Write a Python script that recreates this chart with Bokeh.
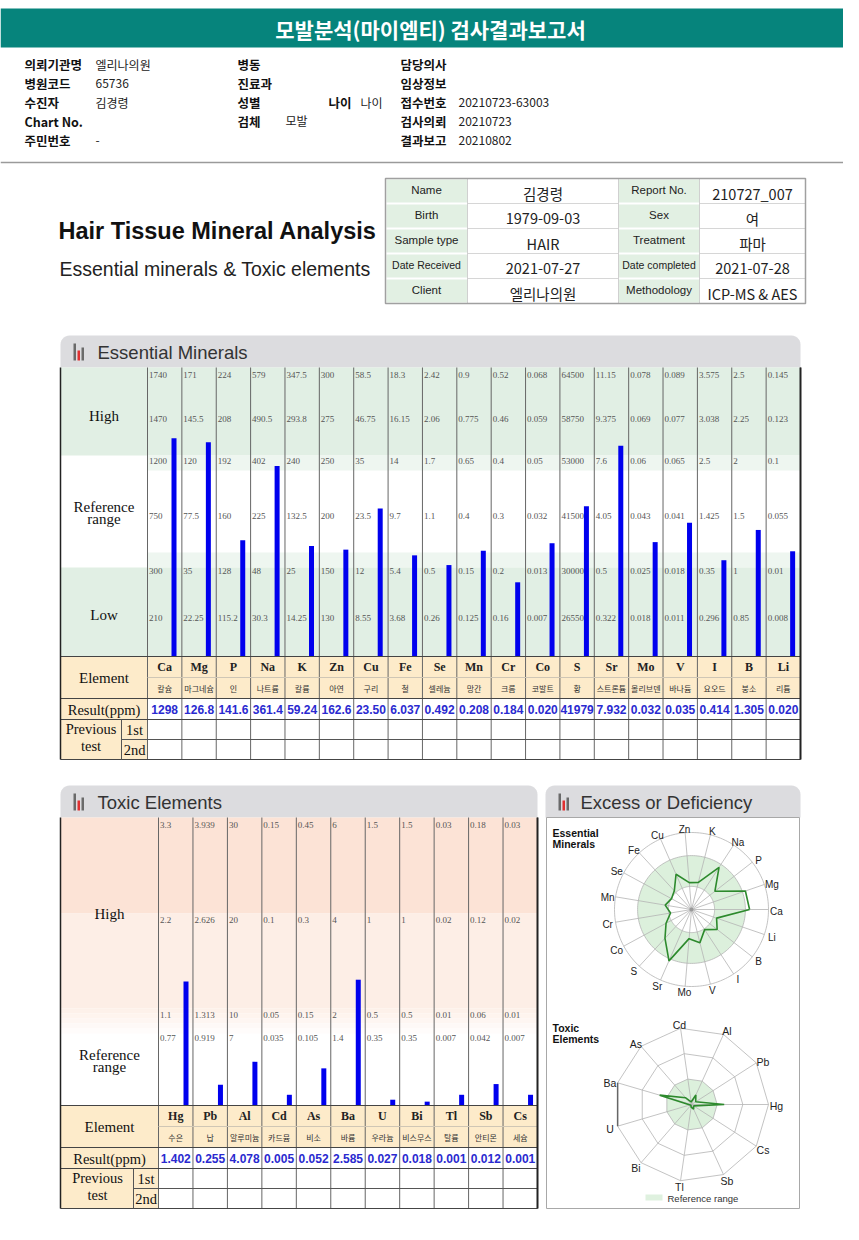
import math
import numpy as np
from bokeh.plotting import figure
from bokeh.models import Range1d
from bokeh.core.properties import value
from bokeh.embed import file_html
from bokeh.resources import INLINE

# ======================= DATA =======================
report_title = "모발분석(마이엠티) 검사결과보고서"

info_labels_1 = ["의뢰기관명", "병원코드", "수진자", "Chart No.", "주민번호"]
info_values_1 = ["엘리나의원", "65736", "김경령", "", "-"]
info_labels_2 = ["병동", "진료과", "성별", "검체", ""]
info_values_2 = ["", "", "", "모발", ""]
info_labels_3 = ["담당의사", "임상정보", "접수번호", "검사의뢰", "결과보고"]
info_values_3 = ["", "", "20210723-63003", "20210723", "20210802"]

card_labels_left = ["Name", "Birth", "Sample type", "Date Received", "Client"]
card_values_left = ["김경령", "1979-09-03", "HAIR", "2021-07-27", "엘리나의원"]
card_labels_right = ["Report No.", "Sex", "Treatment", "Date completed", "Methodology"]
card_values_right = ["210727_007", "여", "파마", "2021-07-28", "ICP-MS & AES"]

ess_symbols = ["Ca", "Mg", "P", "Na", "K", "Zn", "Cu", "Fe", "Se", "Mn", "Cr", "Co",
               "S", "Sr", "Mo", "V", "I", "B", "Li"]
ess_korean = ["칼슘", "마그네슘", "인", "나트륨", "칼륨", "아연", "구리", "철", "셀레늄", "망간",
              "크롬", "코발트", "황", "스트론튬", "몰리브덴", "바나듐", "요오드", "붕소", "리튬"]
ess_results = [1298, 126.8, 141.6, 361.4, 59.24, 162.6, 23.50, 6.037, 0.492, 0.208,
               0.184, 0.020, 41979, 7.932, 0.032, 0.035, 0.414, 1.305, 0.020]
ess_high_max = [1740, 171, 224, 579, 347.5, 300, 58.5, 18.3, 2.42, 0.9, 0.52, 0.068,
                64500, 11.15, 0.078, 0.089, 3.575, 2.5, 0.145]
ess_high_mid = [1470, 145.5, 208, 490.5, 293.8, 275, 46.75, 16.15, 2.06, 0.775, 0.46, 0.059,
                58750, 9.375, 0.069, 0.077, 3.038, 2.25, 0.123]
ess_ref_high = [1200, 120, 192, 402, 240, 250, 35, 14, 1.7, 0.65, 0.4, 0.05,
                53000, 7.6, 0.06, 0.065, 2.5, 2, 0.1]
ess_ref_mid = [750, 77.5, 160, 225, 132.5, 200, 23.5, 9.7, 1.1, 0.4, 0.3, 0.032,
               41500, 4.05, 0.043, 0.041, 1.425, 1.5, 0.055]
ess_ref_low = [300, 35, 128, 48, 25, 150, 12, 5.4, 0.5, 0.15, 0.2, 0.013,
               30000, 0.5, 0.025, 0.018, 0.35, 1, 0.01]
ess_low_mid = [210, 22.25, 115.2, 30.3, 14.25, 130, 8.55, 3.68, 0.26, 0.125, 0.16, 0.007,
               26550, 0.322, 0.018, 0.011, 0.296, 0.85, 0.008]

tox_symbols = ["Hg", "Pb", "Al", "Cd", "As", "Ba", "U", "Bi", "Tl", "Sb", "Cs"]
tox_korean = ["수은", "납", "알루미늄", "카드뮴", "비소", "바륨", "우라늄", "비스무스", "탈륨", "안티몬", "세슘"]
tox_results = [1.402, 0.255, 4.078, 0.005, 0.052, 2.585, 0.027, 0.018, 0.001, 0.012, 0.001]
tox_max = [3.3, 3.939, 30, 0.15, 0.45, 6, 1.5, 1.5, 0.03, 0.18, 0.03]
tox_high = [2.2, 2.626, 20, 0.1, 0.3, 4, 1, 1, 0.02, 0.12, 0.02]
tox_ref = [1.1, 1.313, 10, 0.05, 0.15, 2, 0.5, 0.5, 0.01, 0.06, 0.01]
tox_ref_mid = [0.77, 0.919, 7, 0.035, 0.105, 1.4, 0.35, 0.35, 0.007, 0.042, 0.007]

# ======================= STYLE =======================
SANS = "Liberation Sans"
KR = "Noto Sans CJK KR"
SERIF = "Liberation Serif"
TEAL = "#06847c"
HDR = "#dcdcdf"
GREEN = "#e1efe4"
GREEN_L = "#eef6f0"
PEACH = "#fce3d6"
PEACH_L = "#fdeee6"
BEIGE = "#fdebca"
BAR = "#0000ee"
BLUE_TXT = "#2a2ad0"
GRID = "#666666"

W, H = 843, 1224
p = figure(width=W, height=H, x_range=Range1d(0, W), y_range=Range1d(H, 0),
           output_backend="svg", toolbar_location=None, min_border=0,
           x_axis_location=None, y_axis_location=None)
p.grid.visible = False
p.outline_line_color = None
p.background_fill_color = "white"
p.border_fill_color = "white"


def T(xs, ys, texts, size, font=SANS, color="#222", align="left", baseline="middle", style="normal"):
    p.text(x=list(xs), y=list(ys), text=list(texts), text_font=value(font),
           text_font_size=f"{size}px", text_color=color, text_align=align,
           text_baseline=baseline, text_font_style=style)


def Q(l, r, t, b, fill, line=None, lw=1):
    p.quad(left=[l], right=[r], top=[t], bottom=[b], fill_color=fill, line_color=line, line_width=lw)


def S(x0, y0, x1, y1, color=GRID, lw=1):
    p.segment(x0=[x0], y0=[y0], x1=[x1], y1=[y1], line_color=color, line_width=lw)


def header_bar(x0, x1, y0, y1, r=9):
    xs, ys = [x0], [y1]
    for t in np.linspace(math.pi, 1.5 * math.pi, 8):
        xs.append(x0 + r + r * math.cos(t)); ys.append(y0 + r + r * math.sin(t))
    for t in np.linspace(1.5 * math.pi, 2 * math.pi, 8):
        xs.append(x1 - r + r * math.cos(t)); ys.append(y0 + r + r * math.sin(t))
    xs.append(x1); ys.append(y1)
    p.patch(xs, ys, fill_color=HDR, line_color=None)


def icon(x, yb):
    Q(x, x + 2.5, yb - 17, yb, "#6a6a6a")
    Q(x + 4, x + 6.5, yb - 10, yb, "#e03030")
    Q(x + 8, x + 10.5, yb - 13, yb, "#6a6a6a")


def fmt_result(v):
    if v >= 1000:
        return f"{v:.0f}"
    d = 3 - int(math.floor(math.log10(v)))
    d = max(0, min(3, d))
    return f"{v:.{d}f}"


# ======================= TOP HEADER =======================
Q(0, W, 8, 47, TEAL)
T([430], [28], [report_title], 21, KR, "white", "center", "middle", "bold")

rows_y = [64, 83, 102, 121, 140]
T([24] * 5, rows_y, info_labels_1, 12.5, KR, "#111", style="bold")
T([95] * 5, rows_y, info_values_1, 12, KR, "#222")
T([237] * 5, rows_y, info_labels_2, 12.5, KR, "#111", style="bold")
T([285] * 5, [y - 1 for y in rows_y], info_values_2, 12, KR, "#222")
T([328], [102], ["나이"], 12.5, KR, "#111", style="bold")
T([360], [102], ["나이"], 12, KR, "#222")
T([400] * 5, rows_y, info_labels_3, 12.5, KR, "#111", style="bold")
T([458] * 5, rows_y, info_values_3, 12, KR, "#222")
S(0, 162, W, 162, "#9a9a9a", 1.5)

# ======================= INFO CARD =======================
cx_ = [385, 467, 618, 699, 805]
ry_ = [178, 203, 228, 253, 278, 303]
for i in range(5):
    Q(cx_[0] + 1, cx_[1], ry_[i] + 1, ry_[i + 1] - 1, "#e2f0e3")
    Q(cx_[2], cx_[3], ry_[i] + 1, ry_[i + 1] - 1, "#e2f0e3")
for i in range(1, 5):
    S(cx_[1], ry_[i], cx_[2], ry_[i], "#d6d6d6")
    S(cx_[3], ry_[i], cx_[4], ry_[i], "#d6d6d6")
for c in cx_[1:4]:
    S(c, ry_[0], c, ry_[5], "#d0d0d0")
Q(cx_[0], cx_[4], ry_[0], ry_[5], None, "#a0a0a0", 1.5)
for i in range(5):
    yc = (ry_[i] + ry_[i + 1]) / 2
    for lab, xc in ((card_labels_left[i], 426), (card_labels_right[i], 658.5)):
        T([xc], [yc - 1], [lab], 10.5 if len(lab) > 11 else 11.5, SANS, "#222", "center")
    T([542.5], [yc + 2], [card_values_left[i]], 14.5, KR, "#222", "center")
    T([752], [yc + 2], [card_values_right[i]], 14.5, KR, "#222", "center")

T([58], [230], ["Hair Tissue Mineral Analysis"], 23.5, SANS, "#111", "left", "middle", "bold")
T([59], [268], ["Essential minerals & Toxic elements"], 19.5, SANS, "#222", "left", "middle")

# ======================= ESSENTIAL MINERALS =======================
EX0, ELAB, EX1 = 60, 147, 800
ne = len(ess_symbols)
ew = (EX1 - ELAB) / ne
ecols = [ELAB + i * ew for i in range(ne + 1)]
ecent = [c + ew / 2 for c in ecols[:-1]]
E_TICK_Y = [367, 411, 453, 508, 563, 610]
E_BASE = 656

header_bar(EX0, EX1, 335, 367)
icon(73, 360)
T([97], [352], ["Essential Minerals"], 18.5, SANS, "#333")

Q(EX0, EX1, 367, 455, GREEN)
Q(ELAB, EX1, 455, 470, GREEN_L)
Q(ELAB, EX1, 552, 567, GREEN_L)
Q(EX0, EX1, 567, E_BASE, GREEN)

ess_levels = [ess_high_max, ess_high_mid, ess_ref_high, ess_ref_mid, ess_ref_low, ess_low_mid]
xs, ys, ts = [], [], []
for k, lev in enumerate(ess_levels):
    for i, v in enumerate(lev):
        xs.append(ecols[i] + 1.5); ys.append(E_TICK_Y[k] + 4); ts.append(f"{v:g}")
T(xs, ys, ts, 9, SERIF, "#555", "left", "top")

e_tops = [float(np.interp(v, [0, ess_low_mid[i], ess_ref_low[i], ess_ref_mid[i], ess_ref_high[i],
                              ess_high_mid[i], ess_high_max[i]],
                          [E_BASE] + E_TICK_Y[::-1]))
          for i, v in enumerate(ess_results)]
p.vbar(x=[c + 26.5 for c in ecols[:-1]], width=5, top=e_tops, bottom=E_BASE,
       fill_color=BAR, line_color=None)

T([103.5], [415], ["High"], 15, SERIF, "#111", "center", "middle")
T([103.5, 103.5], [506, 518], ["Reference", "range"], 15, SERIF, "#111", "center", "middle")
T([103.5], [614], ["Low"], 15, SERIF, "#111", "center", "middle")

E_ROWS = [656, 677, 698, 719, 739, 759]
Q(EX0, EX1, E_ROWS[0], E_ROWS[2], BEIGE)
Q(EX0, ELAB, E_ROWS[2], E_ROWS[5], BEIGE)
for c in ecols:
    S(c, 367, c, E_ROWS[5], GRID)
S(ELAB, E_ROWS[1], EX1, E_ROWS[1], "#cfc6b5")
for yy in (E_ROWS[0], E_ROWS[2], E_ROWS[3], E_ROWS[5]):
    S(EX0, yy, EX1, yy, "#444")
S(121, E_ROWS[4], EX1, E_ROWS[4], "#555")
S(121, E_ROWS[3], 121, E_ROWS[5], "#555")
S(EX0, 367, EX0, E_ROWS[5], "#222", 1.5)
S(EX1, 367, EX1, E_ROWS[5], "#222", 2)

T(ecent, [666.5] * ne, ess_symbols, 12, SERIF, "#222", "center", "middle", "bold")
T(ecent, [688] * ne, ess_korean, 8, KR, "#333", "center")
T(ecent, [709] * ne, [fmt_result(v) for v in ess_results], 12, SANS, BLUE_TXT, "center", "middle", "bold")
T([103.5], [677], ["Element"], 15, SERIF, "#111", "center", "middle")
T([103.5], [709], ["Result(ppm)"], 14.5, SERIF, "#111", "center", "middle")
T([90.5, 90.5], [728, 745], ["Previous", "test"], 14.5, SERIF, "#111", "center", "middle")
T([134, 134], [729.5, 749.5], ["1st", "2nd"], 14.5, SERIF, "#111", "center", "middle")

# ======================= TOXIC ELEMENTS =======================
TX0, TLAB, TX1 = 60, 158, 537
nt = len(tox_symbols)
tw = (TX1 - TLAB) / nt
tcols = [TLAB + i * tw for i in range(nt + 1)]
tcent = [c + tw / 2 for c in tcols[:-1]]
T_TICK_Y = [817, 912, 1007, 1030]
T_BASE = 1105

header_bar(TX0, TX1, 785, 817)
icon(73, 810)
T([97], [802], ["Toxic Elements"], 18.5, SANS, "#333")

Q(TX0, TX1, 817, 913, PEACH)
Q(TX0, TX1, 913, 1008, PEACH_L)
g0 = np.array([0xfd, 0xee, 0xe6]); g1 = np.array([255, 255, 255])
for s in range(5):
    c = g0 + (g1 - g0) * (s + 1) / 6
    Q(TX0, TX1, 1008 + s * 5, 1013 + s * 5, "#%02x%02x%02x" % tuple(int(round(v)) for v in c))

tox_levels = [tox_max, tox_high, tox_ref, tox_ref_mid]
xs, ys, ts = [], [], []
for k, lev in enumerate(tox_levels):
    for i, v in enumerate(lev):
        xs.append(tcols[i] + 1.5); ys.append(T_TICK_Y[k] + 4); ts.append(f"{v:g}")
T(xs, ys, ts, 9, SERIF, "#555", "left", "top")

t_tops = [float(np.interp(v, [0, tox_ref_mid[i], tox_ref[i], tox_high[i], tox_max[i]],
                          [T_BASE] + T_TICK_Y[::-1]))
          for i, v in enumerate(tox_results)]
p.vbar(x=[c + 27.5 for c in tcols[:-1]], width=5, top=t_tops, bottom=T_BASE,
       fill_color=BAR, line_color=None)

T([109], [913], ["High"], 15, SERIF, "#111", "center", "middle")
T([109, 109], [1054, 1066], ["Reference", "range"], 15, SERIF, "#111", "center", "middle")

T_ROWS = [1105, 1126, 1147, 1168, 1188, 1208]
Q(TX0, TX1, T_ROWS[0], T_ROWS[2], BEIGE)
Q(TX0, TLAB, T_ROWS[2], T_ROWS[5], BEIGE)
for c in tcols:
    S(c, 817, c, T_ROWS[5], GRID)
S(TLAB, T_ROWS[1], TX1, T_ROWS[1], "#cfc6b5")
for yy in (T_ROWS[0], T_ROWS[2], T_ROWS[3], T_ROWS[5]):
    S(TX0, yy, TX1, yy, "#444")
S(133, T_ROWS[4], TX1, T_ROWS[4], "#555")
S(133, T_ROWS[3], 133, T_ROWS[5], "#555")
S(TX0, 817, TX0, T_ROWS[5], "#222", 1.5)
S(TX1, 817, TX1, T_ROWS[5], "#222", 2)

T(tcent, [1115.5] * nt, tox_symbols, 12, SERIF, "#222", "center", "middle", "bold")
T(tcent, [1137] * nt, tox_korean, 8, KR, "#333", "center")
T(tcent, [1158] * nt, [fmt_result(v) for v in tox_results], 12, SANS, BLUE_TXT, "center", "middle", "bold")
T([109], [1126], ["Element"], 15, SERIF, "#111", "center", "middle")
T([109], [1158], ["Result(ppm)"], 14.5, SERIF, "#111", "center", "middle")
T([97, 97], [1177, 1194], ["Previous", "test"], 14.5, SERIF, "#111", "center", "middle")
T([145.5, 145.5], [1178.5, 1198.5], ["1st", "2nd"], 14.5, SERIF, "#111", "center", "middle")

# ======================= EXCESS OR DEFICIENCY =======================
header_bar(545, 800, 785, 817)
icon(558, 810)
T([580], [802], ["Excess or Deficiency"], 18.5, SANS, "#333")
Q(546, 799, 817, 1208, None, "#a8a8a8", 1)

RG = "#dcf0dc"
RL = "#b4b4b4"
PL = "#2d8a2d"


def ring_pts(cx, cy, r, n):
    t = np.linspace(0, 2 * math.pi, n + 1)
    return list(cx + r * np.cos(t)), list(cy - r * np.sin(t))


# --- essential radar ---
cxe, cye, R = 691, 909, 77
n = ne
ang = [2 * math.pi * i / n for i in range(n)]
x, y = ring_pts(cxe, cye, 0.7 * R, 180)
p.patch(x, y, fill_color=RG, line_color=RL, line_width=0.8)
x, y = ring_pts(cxe, cye, 0.3 * R, 180)
p.patch(x, y, fill_color="white", line_color=RL, line_width=0.8)
x, y = ring_pts(cxe, cye, R, 180)
p.line(x, y, line_color=RL, line_width=0.8)
p.segment(x0=[cxe] * n, y0=[cye] * n, x1=[cxe + R * math.cos(a) for a in ang],
          y1=[cye - R * math.sin(a) for a in ang], line_color=RL, line_width=0.8)
efr = [float(np.interp(v, [0, ess_ref_low[i], ess_ref_high[i], ess_high_max[i]], [0, 0.3, 0.7, 1.0]))
       for i, v in enumerate(ess_results)]
px = [cxe + f * R * math.cos(a) for f, a in zip(efr, ang)]
py = [cye - f * R * math.sin(a) for f, a in zip(efr, ang)]
p.line(px + [px[0]], py + [py[0]], line_color=PL, line_width=1.6)
p.scatter([cxe], [cye], size=4, fill_color="#999", line_color=None)
T([cxe + (R + 8) * math.cos(a) for a in ang], [cye - (R + 5) * math.sin(a) + 1.5 for a in ang],
  ess_symbols, 10, SANS, "#222", "center", "middle")
T([552, 552], [832, 843], ["Essential", "Minerals"], 10.5, SANS, "#111", "left", "middle", "bold")

# --- toxic radar ---
cxt, cyt = 691, 1104
n = nt
ang = [2 * math.pi * i / n for i in range(n)]
x, y = ring_pts(cxt, cyt, R / 3, n)
p.patch(x, y, fill_color=RG, line_color=RL, line_width=0.8)
for fr in (2 / 3, 1.0):
    x, y = ring_pts(cxt, cyt, fr * R, n)
    p.line(x, y, line_color=RL, line_width=0.8)
p.segment(x0=[cxt] * n, y0=[cyt] * n, x1=[cxt + R * math.cos(a) for a in ang],
          y1=[cyt - R * math.sin(a) for a in ang], line_color=RL, line_width=0.8)
iba, iu = tox_symbols.index("Ba"), tox_symbols.index("U")
S(cxt + R * math.cos(ang[iba]), cyt - R * math.sin(ang[iba]),
  cxt + R * math.cos(ang[iu]), cyt - R * math.sin(ang[iu]), "#666", 1.5)
tfr = [min(1.0, v / tox_max[i]) for i, v in enumerate(tox_results)]
px = [cxt + f * R * math.cos(a) for f, a in zip(tfr, ang)]
py = [cyt - f * R * math.sin(a) for f, a in zip(tfr, ang)]
p.line(px + [px[0]], py + [py[0]], line_color=PL, line_width=1.6)
T([cxt + (R + 8) * math.cos(a) for a in ang], [cyt - (R + 5) * math.sin(a) + 1.5 for a in ang],
  tox_symbols, 10.5, SANS, "#222", "center", "middle")
T([552, 552], [1027, 1038], ["Toxic", "Elements"], 10.5, SANS, "#111", "left", "middle", "bold")

Q(645, 662, 1194, 1200, "#dff1df")
T([667], [1197.5], ["Reference range"], 9.5, SANS, "#333", "left", "middle")

open("out.html", "w").write(file_html(p, INLINE))
